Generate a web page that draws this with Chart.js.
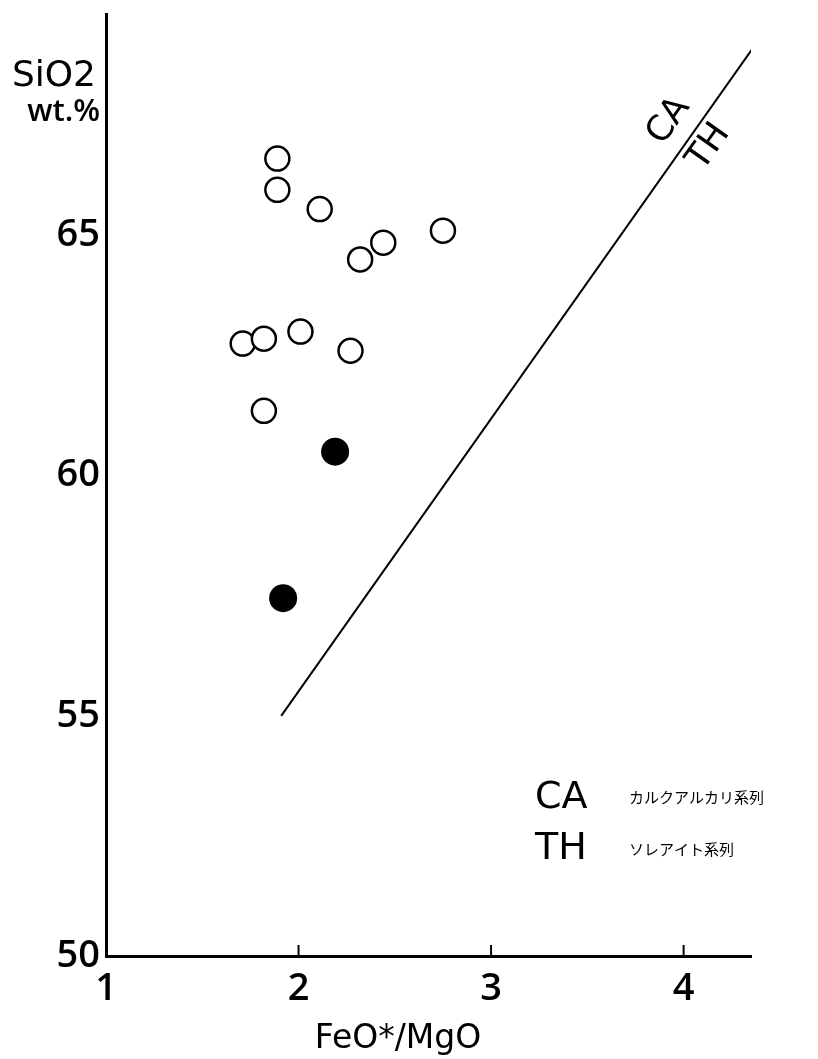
<!DOCTYPE html>
<html>
<head>
<meta charset="utf-8">
<script src="https://cdn.jsdelivr.net/npm/chart.js@4"></script>
<style>
html,body{margin:0;padding:0;background:#fff;}
canvas{display:block;}
</style>
</head>
<body>
<canvas id="c" width="818" height="1059"></canvas>
<script>
// ---- data ----
const openX = [1.89, 1.89, 2.11, 2.44, 2.32, 2.75, 1.71, 1.82, 2.01, 2.27, 1.82];
const openY = [66.6, 65.95, 65.55, 64.85, 64.5, 65.1, 62.75, 62.85, 63.0, 62.6, 61.35];
const filledX = [2.19, 1.92];
const filledY = [60.5, 57.45];
const boundaryX = [1.91, 4.36];
const boundaryY = [55.0, 68.9];
const xTicks = [1, 2, 3, 4];
const yTicks = [50, 55, 60, 65];
const xTitle = 'FeO*/MgO';
const yTitle = ['SiO2', 'wt.%'];
const legendCodes = ['CA', 'TH'];
const legendNames = ['カルクアルカリ系列', 'ソレアイト系列'];

const toPts = (xs, ys) => xs.map((x, i) => ({x: x, y: ys[i]}));
const FONT = '"DejaVu Sans", "Liberation Sans", sans-serif';
const TICKFONT = '"Open Sans", "DejaVu Sans", sans-serif';

const annot = {
  id: 'annot',
  afterDraw(chart) {
    const ctx = chart.ctx;
    const xs = chart.scales.x, ys = chart.scales.y;
    ctx.save();
    // inward tick marks on x axis
    ctx.strokeStyle = '#000';
    ctx.lineWidth = 2;
    xTicks.slice(1).forEach(v => {
      const px = xs.getPixelForValue(v);
      ctx.beginPath();
      ctx.moveTo(px, ys.bottom);
      ctx.lineTo(px, ys.bottom - 11);
      ctx.stroke();
    });
    ctx.fillStyle = '#000';
    // y title
    ctx.font = '36px ' + FONT;
    ctx.textAlign = 'right';
    ctx.textBaseline = 'alphabetic';
    ctx.fillText(yTitle[0], 96, 86);
    ctx.font = '600 31px ' + TICKFONT;
    ctx.fillText(yTitle[1], 100, 121);
    // x title
    ctx.font = '33px ' + FONT;
    ctx.textAlign = 'center';
    ctx.fillText(xTitle, 398, 1048);
    // rotated CA / TH along the boundary line
    const p1 = {x: xs.getPixelForValue(boundaryX[0]), y: ys.getPixelForValue(boundaryY[0])};
    const p2 = {x: xs.getPixelForValue(boundaryX[1]), y: ys.getPixelForValue(boundaryY[1])};
    const ang = Math.atan2(p2.y - p1.y, p2.x - p1.x);
    ctx.font = '35px ' + FONT;
    ctx.textBaseline = 'middle';
    ctx.textAlign = 'center';
    ctx.save(); ctx.translate(669, 121); ctx.rotate(ang); ctx.fillText(legendCodes[0], 0, 0); ctx.restore();
    ctx.save(); ctx.translate(709, 147); ctx.rotate(ang); ctx.fillText(legendCodes[1], 0, 0); ctx.restore();
    // legend
    ctx.textAlign = 'left';
    ctx.font = '38px ' + FONT;
    ctx.fillText(legendCodes[0], 535, 798);
    ctx.fillText(legendCodes[1], 535, 849);
    ctx.font = '15px "Noto Sans CJK JP", sans-serif';
    ctx.fillText(legendNames[0], 629, 797);
    ctx.fillText(legendNames[1], 629, 849);
    ctx.restore();
  }
};

new Chart(document.getElementById('c'), {
  type: 'scatter',
  data: {
    datasets: [
      {
        data: toPts(boundaryX, boundaryY),
        showLine: true,
        borderColor: '#000',
        borderWidth: 2,
        pointRadius: 0,
        fill: false
      },
      {
        data: toPts(openX, openY),
        pointRadius: 12,
        pointBorderWidth: 2.5,
        pointBackgroundColor: '#fff',
        pointBorderColor: '#000'
      },
      {
        data: toPts(filledX, filledY),
        pointRadius: 14,
        pointBorderWidth: 0,
        pointBackgroundColor: '#000',
        pointBorderColor: '#000'
      }
    ]
  },
  options: {
    responsive: false,
    animation: false,
    events: [],
    layout: {padding: {top: 12, right: 67, left: 0, bottom: 0}},
    plugins: {legend: {display: false}, tooltip: {enabled: false}},
    scales: {
      x: {
        type: 'linear',
        min: 1, max: 4.35,
        afterBuildTicks: a => { a.ticks = xTicks.map(v => ({value: v})); },
        afterFit: a => { a.height = 103; a.paddingLeft = 0; a.paddingRight = 0; },
        grid: {display: false, drawTicks: false},
        border: {display: true, color: '#000', width: 3},
        ticks: {color: '#000', font: {family: TICKFONT, size: 38, weight: '600'}, padding: 10, maxRotation: 0}
      },
      y: {
        type: 'linear',
        min: 50, max: 69.6,
        afterBuildTicks: a => { a.ticks = yTicks.map(v => ({value: v})); },
        afterFit: a => { a.width = 106; a.paddingTop = 0; a.paddingBottom = 0; },
        grid: {display: false, drawTicks: false},
        border: {display: true, color: '#000', width: 3},
        ticks: {color: '#000', font: {family: TICKFONT, size: 38, weight: '600'}, padding: 6}
      }
    }
  },
  plugins: [annot]
});
</script>
</body>
</html>
